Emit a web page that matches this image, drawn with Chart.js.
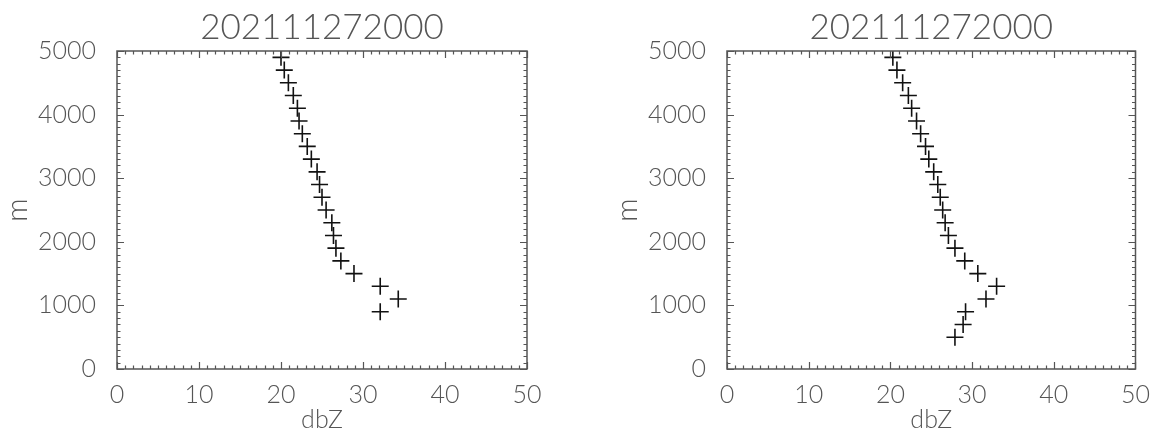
<!DOCTYPE html>
<html>
<head>
<meta charset="utf-8">
<script src="https://cdn.jsdelivr.net/npm/chart.js@4"></script>
<style>
  body { margin: 0; background: #fff; }
  #wrap { position: relative; width: 1153px; height: 437px; overflow: hidden; }
  canvas { position: absolute; top: 0; }
</style>
</head>
<body>
<div id="wrap">
  <canvas id="left" width="560" height="437" style="left:0px"></canvas>
  <canvas id="right" width="543" height="437" style="left:610px"></canvas>
</div>
<script>
// title shown over both panels
const titleText = '202111272000';

// heights (m) of the profile levels
const leftHeights = [4900, 4700, 4500, 4300, 4100, 3900, 3700, 3500, 3300, 3100, 2900,
  2700, 2500, 2300, 2100, 1900, 1700, 1500, 1300, 1100, 900];
const rightHeights = [4900, 4700, 4500, 4300, 4100, 3900, 3700, 3500, 3300, 3100, 2900,
  2700, 2500, 2300, 2100, 1900, 1700, 1500, 1300, 1100, 900, 700, 500];

// reflectivity (dbZ)
const leftDbz = [20.0, 20.4, 20.9, 21.5, 22.0, 22.2, 22.6, 23.2, 23.7, 24.4, 24.7,
  25.0, 25.5, 26.2, 26.4, 26.7, 27.3, 28.9, 32.1, 34.3, 32.1];
const rightDbz = [20.3, 20.8, 21.5, 22.2, 22.6, 23.2, 23.7, 24.3, 24.7, 25.3, 25.8,
  26.1, 26.4, 26.7, 27.1, 27.9, 29.1, 30.7, 33.0, 31.7, 29.2, 28.9, 27.9];

// axis ranges
const xMin = 0, xMax = 50, xStep = 10, xMinor = 1;
const yMin = 0, yMax = 5000, yStep = 1000, yMinor = 100;

const inkColor = '#555555';
const fontName = 'Lato, "Liberation Sans", sans-serif';
const fontWeight = 300;

// draws the closed box with IDL-style inward ticks on all four sides
const boxTicks = {
  id: 'boxTicks',
  afterDraw(chart) {
    const ctx = chart.ctx;
    const a = chart.chartArea;
    const xs = chart.scales.x, ys = chart.scales.y;
    ctx.save();
    ctx.strokeStyle = inkColor;
    ctx.lineWidth = 1.5;
    ctx.strokeRect(a.left, a.top, a.right - a.left, a.bottom - a.top);
    ctx.lineWidth = 1.2;
    ctx.beginPath();
    for (let v = xMin; v <= xMax + 1e-9; v += xMinor) {
      const len = Math.abs(v % xStep) < 1e-6 ? 7 : 3.5;
      const px = Math.round(xs.getPixelForValue(v)) + 0.5;
      ctx.moveTo(px, a.bottom); ctx.lineTo(px, a.bottom - len);
      ctx.moveTo(px, a.top); ctx.lineTo(px, a.top + len);
    }
    for (let v = yMin; v <= yMax + 1e-9; v += yMinor) {
      const len = Math.abs(v % yStep) < 1e-6 ? 7 : 3.5;
      const py = Math.round(ys.getPixelForValue(v)) + 0.5;
      ctx.moveTo(a.left, py); ctx.lineTo(a.left + len, py);
      ctx.moveTo(a.right, py); ctx.lineTo(a.right - len, py);
    }
    ctx.stroke();
    ctx.restore();
  }
};

function makePanel(id, dbz, heights, padRight) {
  const pts = dbz.map((d, i) => ({ x: d, y: heights[i] }));
  return new Chart(document.getElementById(id), {
    type: 'scatter',
    data: {
      datasets: [{
        data: pts,
        pointStyle: 'cross',
        pointRadius: 8.5,
        pointHoverRadius: 8.5,
        pointBorderWidth: 1.6,
        borderColor: '#111111',
        backgroundColor: '#111111'
      }]
    },
    options: {
      responsive: false,
      animation: false,
      events: [],
      layout: { padding: { left: 0, right: padRight, top: 0, bottom: 0 } },
      plugins: {
        legend: { display: false },
        tooltip: { enabled: false },
        title: {
          display: true,
          text: titleText,
          fullSize: false,
          color: inkColor,
          font: { family: fontName, size: 35, weight: fontWeight, lineHeight: 1 },
          padding: { top: 10, bottom: 6 }
        }
      },
      scales: {
        x: {
          type: 'linear',
          min: xMin, max: xMax,
          grid: { display: false },
          border: { display: false },
          ticks: {
            stepSize: xStep,
            color: inkColor,
            padding: 3,
            maxRotation: 0,
            font: { family: fontName, size: 25, weight: fontWeight },
            callback: v => String(v)
          },
          title: {
            display: true,
            text: 'dbZ',
            color: inkColor,
            font: { family: fontName, size: 25, weight: fontWeight },
            padding: { top: 0, bottom: 2 }
          },
          afterFit(scale) { scale.height = 68; }
        },
        y: {
          type: 'linear',
          min: yMin, max: yMax,
          grid: { display: false },
          border: { display: false },
          ticks: {
            stepSize: yStep,
            color: inkColor,
            padding: 13,
            font: { family: fontName, size: 25, weight: fontWeight },
            callback: v => String(v)
          },
          title: {
            display: true,
            text: 'm',
            color: inkColor,
            font: { family: fontName, size: 29, weight: fontWeight },
            padding: { top: 0, bottom: 0 }
          },
          afterFit(scale) { scale.width = 117; }
        }
      }
    },
    plugins: [boxTicks]
  });
}

makePanel('left', leftDbz, leftHeights, 33);
makePanel('right', rightDbz, rightHeights, 17);
</script>
</body>
</html>
